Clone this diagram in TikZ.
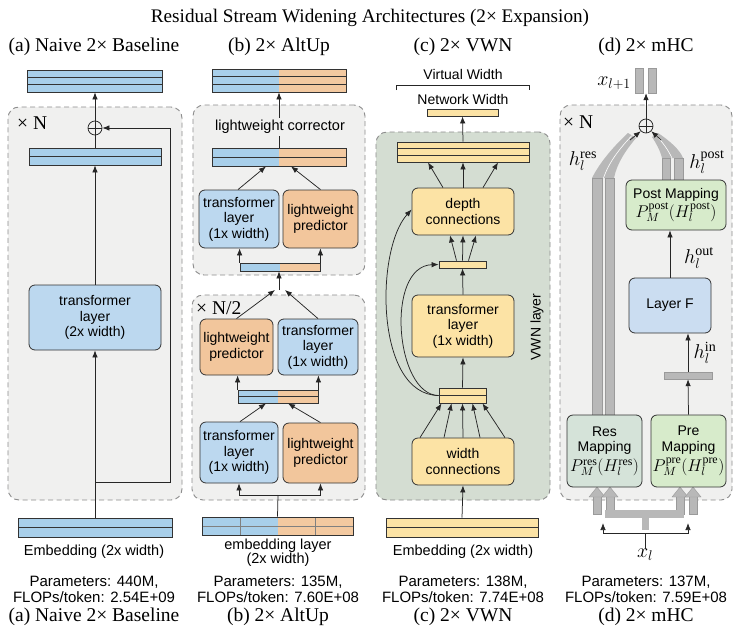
\RequirePackage{fix-cm}
\documentclass[tikz,border=0pt]{standalone}
\usepackage{fontspec}
\setmainfont{Liberation Serif}
\newfontfamily\sansf{Liberation Sans}
\usetikzlibrary{arrows.meta,calc}

\definecolor{barB}{HTML}{A8CFEA}
\definecolor{boxB}{HTML}{BCD8EF}
\definecolor{barO}{HTML}{F3C9A0}
\definecolor{boxO}{HTML}{F2C69C}
\definecolor{yel}{HTML}{FCE3A5}
\definecolor{gbg}{HTML}{F0F0EF}
\definecolor{vwnbg}{HTML}{D4DDD2}
\definecolor{mapG}{HTML}{D7EBCB}
\definecolor{resG}{HTML}{D5E3D9}
\definecolor{layF}{HTML}{CBDDF1}
\definecolor{streamG}{HTML}{B8B8B8}
\definecolor{streamE}{HTML}{9A9A9A}
\definecolor{lineC}{HTML}{333333}
\definecolor{dashC}{HTML}{8C8C8C}

\newcommand\nodefont{\sansf\fontsize{14}{15.5}\selectfont}
\newcommand\statfont{\sansf\fontsize{15}{16}\selectfont}
\newcommand\capfont{\fontsize{19.5}{21}\selectfont}
\newcommand\mlabfont{\fontsize{20}{22}\selectfont}
\newcommand\boxmath[1]{{\fontsize{17}{18}\selectfont$#1$}}

% stripes inside a bar
\newcommand\barrows[1]{%
  \foreach \k in {1,...,#1}{%
    \ifnum\k<#1\relax
      \draw[line width=0.8pt, lineC]
        ($(path picture bounding box.north west)!\k/#1!(path picture bounding box.south west)$) --
        ($(path picture bounding box.north east)!\k/#1!(path picture bounding box.south east)$);
    \fi}}

\begin{document}
\begin{tikzpicture}[x=1pt, y=-1pt,
  arr/.style={-{Latex[length=7pt,width=5.5pt]}, line width=0.75pt, draw=black!85},
  line/.style={line width=0.75pt, draw=black!85},
  barnode/.style={draw=lineC, line width=0.8pt, fill=#1, inner sep=0pt},
  rows/.style={path picture={\barrows{#1}}},
  splitrows/.style={path picture={\fill[barO] (path picture bounding box.north) rectangle (path picture bounding box.south east); \barrows{#1}}},
  blk/.style={draw=lineC, line width=0.8pt, rounded corners=6pt, fill=#1, align=center, inner sep=1pt, font=\nodefont},
  grpbox/.style={draw=dashC, dash pattern=on 5pt off 3.5pt, line width=0.9pt, rounded corners=11pt, fill=#1},
  sumnode/.style={circle, draw=black!85, line width=0.75pt, minimum size=14pt, inner sep=0pt,
    path picture={\draw[line width=0.75pt] (path picture bounding box.north) -- (path picture bounding box.south)
      (path picture bounding box.west) -- (path picture bounding box.east);}},
  gstream/.style={fill=streamG, draw=streamE, line width=0.4pt, inner sep=0pt},
  txt/.style={font=\nodefont, align=center, inner sep=0pt},
  stat/.style={font=\statfont, align=center, inner sep=0pt},
  captxt/.style={font=\capfont, inner sep=0pt},
  mlab/.style={font=\mlabfont, inner sep=0pt}
]
\fill[white] (0,0) rectangle (741,637);
\useasboundingbox (0,0) rectangle (741,637);

\node[font=\fontsize{19.2}{21}\selectfont] (title) at (370,18) {Residual Stream Widening Architectures (2× Expansion)};

% (a) Naive baseline
\node[captxt] (subA) at (94,47) {(a) Naive 2× Baseline};
\node[grpbox=gbg, minimum width=174pt, minimum height=393pt] (grpA) at (95,303.5) {};
\node[captxt, anchor=west] (nA) at (17,123) {× N};
\node[barnode=barB, rows=3, minimum width=135pt, minimum height=22pt] (outA) at (95,81) {};
\node[sumnode] (sumA) at (95,128) {};
\node[barnode=barB, rows=2, minimum width=132pt, minimum height=17pt] (midA) at (95,156.5) {};
\node[blk=boxB, minimum width=132pt, minimum height=65pt] (tfA) at (95,317.5) {transformer\\layer\\(2x width)};
\node[barnode=barB, rows=2, minimum width=154pt, minimum height=19pt] (embA) at (95,527.5) {};
\node[txt, font=\sansf\fontsize{14.5}{16}\selectfont] (embAl) at (94,552) {Embedding (2x width)};
\node[stat] (statA) at (94,589) {Parameters: 440M,\\FLOPs/token: 2.54E+09};
\node[captxt] (capA) at (94,617) {(a) Naive 2× Baseline};

\coordinate (brA) at (95,482);
\coordinate (rtA) at (170,482);
\draw[arr] (embA.north) -- (tfA.south);
\draw[arr] (tfA.north) -- (midA.south);
\draw[line] (midA.north) -- (sumA.south);
\draw[arr] (sumA.north) -- (outA.south);
\draw[arr] (brA) -- (rtA) |- (sumA.east);

% (b) AltUp
\node[captxt] (subB) at (279,47) {(b) 2× AltUp};
\node[grpbox=gbg, minimum width=172pt, minimum height=170pt] (grpB1) at (279,190) {};
\node[grpbox=gbg, minimum width=173pt, minimum height=205pt] (grpB2) at (278.5,397.5) {};
\node[captxt, anchor=west] (nB) at (196,308) {× N/2};
\node[barnode=barB, splitrows=3, minimum width=134pt, minimum height=23pt] (outB) at (279,80.5) {};
\node[barnode=barB, splitrows=2, minimum width=134pt, minimum height=18pt] (midB) at (279,157) {};
\node[blk=boxB, minimum width=80pt, minimum height=58pt] (tfB1) at (239,219) {transformer\\layer\\(1x width)};
\node[blk=boxO, minimum width=75pt, minimum height=58pt] (lpB1) at (320.5,219) {lightweight\\predictor};
\node[barnode=barB, splitrows=1, minimum width=80pt, minimum height=8pt] (smallB) at (280,267) {};
\node[blk=boxO, minimum width=73pt, minimum height=56pt] (lpB2) at (236.5,347) {lightweight\\predictor};
\node[blk=boxB, minimum width=80pt, minimum height=56pt] (tfB2) at (318,347) {transformer\\layer\\(1x width)};
\node[barnode=barB, splitrows=2, minimum width=80pt, minimum height=13pt] (midB2) at (278,396.5) {};
\node[blk=boxB, minimum width=78pt, minimum height=61pt] (tfB3) at (239,452.5) {transformer\\layer\\(1x width)};
\node[blk=boxO, minimum width=75pt, minimum height=60pt] (lpB3) at (320.5,453) {lightweight\\predictor};
\node[barnode=barB, minimum width=151pt, minimum height=18pt,
  path picture={\fill[barO] (path picture bounding box.north) rectangle (path picture bounding box.south east);
    \draw[gray, line width=0.5pt] (path picture bounding box.west) -- (path picture bounding box.east);
    \foreach \f in {0.25,0.75}
      \draw[gray, line width=0.5pt] ($(path picture bounding box.north west)!\f!(path picture bounding box.north east)$) --
        ($(path picture bounding box.south west)!\f!(path picture bounding box.south east)$);}] (embB) at (277.5,526) {};
\node[txt, font=\sansf\fontsize{14.5}{14}\selectfont] (embBl) at (278,553) {embedding layer\\(2x width)};
\node[stat] (statB) at (278,589) {Parameters: 135M,\\FLOPs/token: 7.60E+08};
\node[captxt] (capB) at (278,617) {(b) 2× AltUp};

\coordinate (joinB) at (279,290);
\coordinate (forkB) at (278,495);
\draw[arr] (smallB.north west) -- (smallB.north west |- tfB1.south);
\draw[arr] (smallB.north east) -- (smallB.north east |- lpB1.south);
\draw[arr] ([xshift=-1pt]tfB1.north) -- ([xshift=-13pt]midB.south);
\draw[arr] (lpB1.north) -- ([xshift=12pt]midB.south);
\draw[arr] (midB.north) -- (outB.south);
\node[txt, fill=gbg, inner sep=2pt, font=\sansf\fontsize{14.5}{16}\selectfont] (corrB) at (280,127) {lightweight corrector};
\draw[arr] (lpB2.north) -- ([xshift=-4pt]joinB);
\draw[arr] (tfB2.north) -- ([xshift=6pt]joinB);
\draw[arr] (joinB) -- (joinB |- smallB.south);
\draw[arr] (midB2.north west) -- (midB2.north west |- lpB2.south);
\draw[arr] (midB2.north east) -- (midB2.north east |- tfB2.south);
\draw[arr] ([xshift=1pt]tfB3.north) -- ([xshift=-12pt]midB2.south);
\draw[arr] (lpB3.north) -- ([xshift=10pt]midB2.south);
\draw[line] (embB.north) -- (forkB);
\draw[arr] (forkB) -| (tfB3.south);
\draw[arr] (forkB) -| (lpB3.south);

% (c) VWN
\node[captxt] (subC) at (463,47) {(c) 2× VWN};
\node[txt] (vwC) at (463,74) {Virtual Width};
\coordinate (vwL) at (396,90);
\coordinate (vwR) at (529,90);
\draw[line] (vwL) -- ++(0,-5) -| (vwR);
\node[txt] (nwC) at (463,99) {Network Width};
\node[barnode=yel, minimum width=71pt, minimum height=7pt] (netC) at (462.5,112.5) {};
\node[grpbox=vwnbg, minimum width=174pt, minimum height=368pt] (grpC) at (463,316) {};
\node[barnode=yel, rows=3, minimum width=132pt, minimum height=20pt] (bigC) at (463,152) {};
\node[blk=yel, minimum width=102pt, minimum height=47pt] (depthC) at (463,211.5) {depth\\connections};
\node[barnode=yel, minimum width=47pt, minimum height=7pt] (bar2C) at (462.5,264.5) {};
\node[blk=yel, minimum width=102pt, minimum height=62pt] (tfC) at (463,326) {transformer\\layer\\(1x width)};
\node[barnode=yel, rows=2, minimum width=47pt, minimum height=15pt] (bar3C) at (462.5,395.5) {};
\node[blk=yel, minimum width=102pt, minimum height=47pt] (widthC) at (463,461.5) {width\\connections};
\node[txt, rotate=90] (vwnC) at (537,327) {VWN layer};
\node[barnode=yel, rows=2, minimum width=152pt, minimum height=19pt] (embC) at (462,527.5) {};
\node[txt, font=\sansf\fontsize{14.5}{16}\selectfont] (embCl) at (463,552) {Embedding (2x width)};
\node[stat] (statC) at (463,589) {Parameters: 138M,\\FLOPs/token: 7.74E+08};
\node[captxt] (capC) at (463,617) {(c) 2× VWN};

\draw[arr] (embC.north) -- (widthC.south);
\foreach \a/\b in {-43/-21, -19/-11, 0/0, 17/10, 42/20}
  \draw[arr] ([xshift=\a pt]widthC.north) -- ([xshift=\b pt]bar3C.south);
\draw[arr] (bar3C.north) -- (tfC.south);
\draw[arr] (tfC.north) -- (bar2C.south);
\foreach \a/\b in {-6/-13, 0/0, 6/13}
  \draw[arr] ([xshift=\a pt]bar2C.north) -- ([xshift=\b pt]depthC.south);
\foreach \a/\b in {-20/-35, 0/0, 20/35}
  \draw[arr] ([xshift=\a pt]depthC.north) -- ([xshift=\b pt]bigC.south);
\draw[arr] (bigC.north) -- (netC.south);
\draw[arr] (bar3C.west) .. controls (375,395) and (375,250) .. ([yshift=2pt]depthC.west);
\draw[arr] (bar3C.west) .. controls (395,395) and (385,266) .. (bar2C.west);

% (d) mHC
\node[captxt] (subD) at (646,47) {(d) 2× mHC};
\node[grpbox=gbg, minimum width=172pt, minimum height=395pt] (grpD) at (646,302.5) {};
\node[captxt, anchor=west] (nD) at (563,122) {× N};

% gray streams
\fill[streamG] (592,178) .. controls (600,162) and (614,146) .. (628,133) -- (636,138) .. controls (626,150) and (617,163) .. (614,178) -- cycle;
\draw[white, line width=0.6pt] (603.5,178) .. controls (609,162) and (620,148) .. (632,135.5);
\fill[streamG] (662,158) .. controls (660,150) and (656,143) .. (652,137) -- (658,133) .. controls (670,141) and (680,150) .. (683,158) -- cycle;
\draw[white, line width=0.6pt] (672,158) .. controls (668,150) and (663,142) .. (655,135);
\foreach \gx in {597,610,680,693}{
  \filldraw[gstream] (\gx-4,496) rectangle (\gx+4,514);
  \filldraw[gstream] (\gx-8,497) -- (\gx,487) -- (\gx+8,497) -- cycle;
}
\fill[streamG] (605,510) rectangle (684,518);
\fill[streamG] (642,517) rectangle (649,530);

\node[gstream, minimum width=8pt, minimum height=25pt] (xD1) at (639,80.5) {};
\node[gstream, minimum width=8pt, minimum height=25pt] (xD2) at (652,80.5) {};
\node[mlab, anchor=east] (xlp) at (631,83) {$x_{l+1}$};
\node[sumnode] (sumD) at (646,126) {};
\node[gstream, minimum width=10pt, minimum height=237pt] (resD1) at (597,296.5) {};
\node[gstream, minimum width=9pt, minimum height=237pt] (resD2) at (609.5,296.5) {};
\node[gstream, minimum width=8pt, minimum height=22pt] (postD1) at (666,169) {};
\node[gstream, minimum width=9pt, minimum height=22pt] (postD2) at (678.5,169) {};
\node[mlab] (hres) at (583,161) {$h_l^{\mathrm{res}}$};
\node[mlab] (hpost) at (707,162) {$h_l^{\mathrm{post}}$};
\node[blk=mapG, minimum width=100pt, minimum height=50pt] (postMap) at (676,205) {Post Mapping\\\boxmath{P_M^{\mathrm{post}}(H_l^{\mathrm{post}})}};
\node[mlab] (hout) at (699,258) {$h_l^{\mathrm{out}}$};
\node[blk=layF, minimum width=82pt, minimum height=55pt] (layerF) at (670,305.5) {Layer F};
\node[mlab] (hin) at (705,353) {$h_l^{\mathrm{in}}$};
\node[gstream, minimum width=48pt, minimum height=7pt] (inD) at (688,375.5) {};
\node[blk=resG, minimum width=75pt, minimum height=72pt] (resMap) at (604.5,451) {Res\\Mapping\\[3pt]\boxmath{P_M^{\mathrm{res}}(H_l^{\mathrm{res}})}};
\node[blk=mapG, minimum width=75pt, minimum height=72pt] (preMap) at (688.5,451) {Pre\\Mapping\\[3pt]\boxmath{P_M^{\mathrm{pre}}(H_l^{\mathrm{pre}})}};
\node[mlab] (xl) at (645,555) {$x_l$};
\node[stat] (statD) at (646,589) {Parameters: 137M,\\FLOPs/token: 7.59E+08};
\node[captxt] (capD) at (646,617) {(d) 2× mHC};

\coordinate (resTip) at (630,140);
\coordinate (postTip) at (661,140);
\coordinate (frkD) at (645,533);
\coordinate (tipL) at (603,523);
\coordinate (tipR) at (688,523);
\draw[arr] (sumD.north) -- (sumD.north |- xD1.south);
\draw[arr] (resTip) -- (sumD.-135);
\draw[arr] (postTip) -- (sumD.-45);
\draw[arr] (layerF.north) -- (layerF.north |- postMap.south);
\draw[arr] (inD.north) -- (inD.north |- layerF.south);
\draw[arr] (preMap.north) -- (inD.south);
\draw[line] (xl.north) -- (frkD);
\draw[arr] (frkD) -| (tipL);
\draw[arr] (frkD) -| (tipR);

\end{tikzpicture}
\end{document}
